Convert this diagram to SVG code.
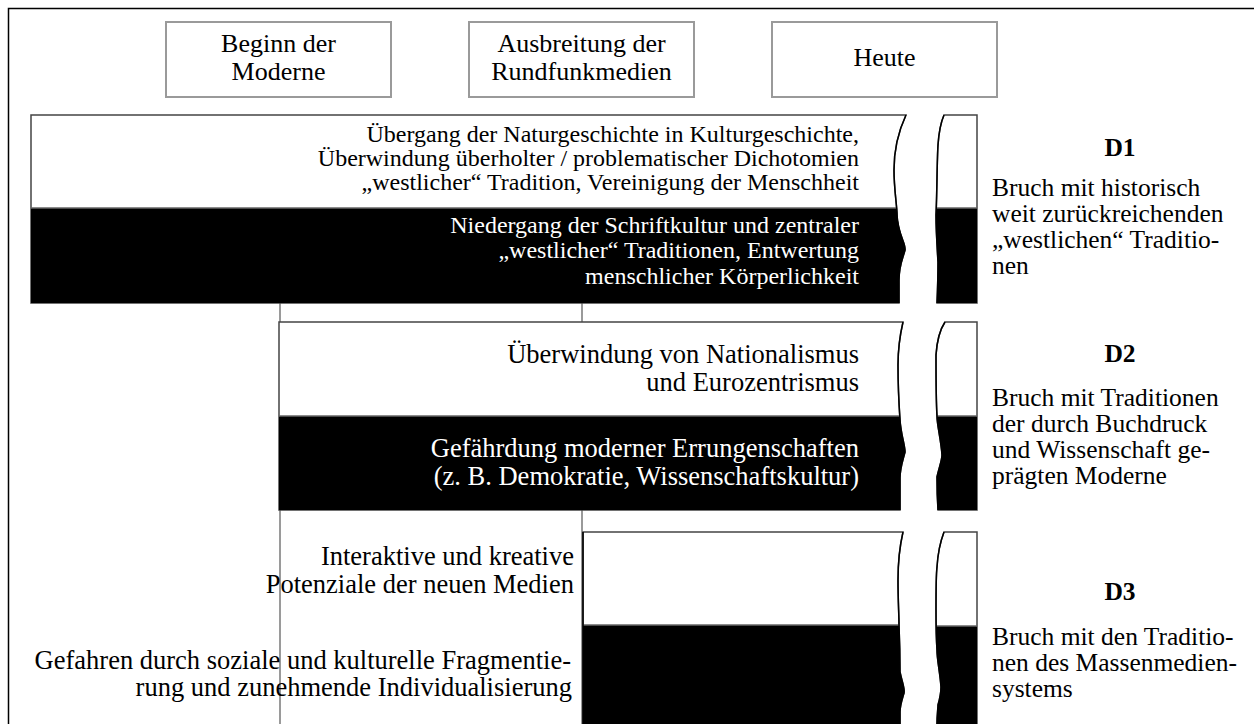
<svg xmlns="http://www.w3.org/2000/svg" width="1254" height="724" viewBox="0 0 1254 724">
<style>
text{font-family:"Liberation Serif","Times New Roman",serif;font-size:26px;fill:#000}
.s24{font-size:24px}
.s26{font-size:26.5px}
.rc{font-size:25.5px}
.r{text-anchor:end}
.c{text-anchor:middle}
.w{fill:#fff}
.b{font-weight:bold}
.hdr{fill:#fff;stroke:#9a9a9a;stroke-width:2}
.guide{stroke:#9a9a9a;stroke-width:2;fill:none}
.blk{fill:#000;stroke:none}
.edge{fill:none;stroke:#000;stroke-width:1.5}
.box{fill:#fff;stroke:#444;stroke-width:1.5}
.sep{stroke:#666;stroke-width:1.5}
</style>
<rect width="1254" height="724" fill="#fff"/>
<path d="M8.5,724 V8.5 H1254" fill="none" stroke="#000" stroke-width="1.5"/>

<g id="connectors">
<line class="guide" x1="280" y1="115" x2="280" y2="724"/>
<line class="guide" x1="582" y1="115" x2="582" y2="724"/>
</g>

<g id="beginn">
<rect class="hdr" x="166" y="22" width="225" height="75"/>
<text class="c" x="278.5" y="52">Beginn der</text>
<text class="c" x="278.5" y="80">Moderne</text>
</g>
<g id="ausbreitung">
<rect class="hdr" x="469" y="22" width="225" height="75"/>
<text class="c" x="581.5" y="52">Ausbreitung der</text>
<text class="c" x="581.5" y="80">Rundfunkmedien</text>
</g>
<g id="heute">
<rect class="hdr" x="772" y="22" width="225" height="75"/>
<text class="c" x="884.5" y="66">Heute</text>
</g>

<g id="d1">
<path class="box" d="M31,115 H906 C899,130 894,150 894,170 C894,190 897,205 897,215 C898,235 906,243 905,250 C903,258 899,265 899,280 L899,303 H31 Z"/>
<path class="blk" d="M31,208 H897 C898,235 906,243 905,250 C903,258 899,265 899,280 L899,303 H31 Z"/>
<line class="sep" x1="31" y1="208" x2="897" y2="208"/>
<path class="edge" d="M906,115 C899,130 894,150 894,170 C894,190 897,205 897,215 C898,235 906,243 905,250 C903,258 899,265 899,280 L899,303"/>
<path class="box" d="M944,115 H977 V303 H937 C938,280 938,268 938,262 C937,245 936,230 936,215 C937,195 937,160 938,145 C939,130 941,122 944,115 Z"/>
<path class="blk" d="M936,208 H977 V303 H937 C938,280 938,268 938,262 C937,245 936,230 936,215 Z"/>
<line class="sep" x1="936" y1="208" x2="977" y2="208"/>
<path class="edge" d="M944,115 C941,122 939,130 938,145 C937,160 937,195 936,215 C936,230 937,245 938,262 C938,268 938,280 937,303"/>
<text class="s24 r" x="859" y="142">Übergang der Naturgeschichte in Kulturgeschichte,</text>
<text class="s24 r" x="859" y="166">Überwindung überholter / problematischer Dichotomien</text>
<text class="s24 r" x="859" y="190">„westlicher“ Tradition, Vereinigung der Menschheit</text>
<text class="s24 r w" x="859" y="233">Niedergang der Schriftkultur und zentraler</text>
<text class="s24 r w" x="859" y="258">„westlicher“ Traditionen, Entwertung</text>
<text class="s24 r w" x="859" y="284">menschlicher Körperlichkeit</text>
<text class="c b rc" x="1120" y="156">D1</text>
<text class="rc" x="992" y="196">Bruch mit historisch<tspan x="992" dy="26">weit zurückreichenden</tspan><tspan x="992" dy="26">„westlichen“ Traditio-</tspan><tspan x="992" dy="26">nen</tspan></text>
</g>

<g id="d2">
<path class="box" d="M279,322 H903 C900,335 898,350 898,365 C898,385 899,405 900,420 C901,435 905,445 905,452 C903,460 900,468 900,478 L900,510 H279 Z"/>
<path class="blk" d="M279,416 H900 C901,435 905,445 905,452 C903,460 900,468 900,478 L900,510 H279 Z"/>
<line class="sep" x1="279" y1="416" x2="900" y2="416"/>
<path class="edge" d="M903,322 C900,335 898,350 898,365 C898,385 899,405 900,420 C901,435 905,445 905,452 C903,460 900,468 900,478 L900,510"/>
<path class="box" d="M945,322 H977 V510 H938 C937,495 937,482 937,477 C939,468 942,460 942,455 C941,440 937,425 937,416 C936,400 936,375 936,355 C937,340 941,328 945,322 Z"/>
<path class="blk" d="M937,416 H977 V510 H938 C937,495 937,482 937,477 C939,468 942,460 942,455 C941,440 937,425 937,416 Z"/>
<line class="sep" x1="937" y1="416" x2="977" y2="416"/>
<path class="edge" d="M945,322 C941,328 937,340 936,355 C936,375 936,400 937,416 C937,425 941,440 942,455 C942,460 939,468 937,477 C937,482 937,495 938,510"/>
<text class="s26 r" x="859" y="363">Überwindung von Nationalismus</text>
<text class="s26 r" x="859" y="391">und Eurozentrismus</text>
<text class="s26 r w" x="859" y="457">Gefährdung moderner Errungenschaften</text>
<text class="s26 r w" x="859" y="485">(z. B. Demokratie, Wissenschaftskultur)</text>
<text class="c b rc" x="1120" y="362">D2</text>
<text class="rc" x="992" y="406">Bruch mit Traditionen<tspan x="992" dy="26">der durch Buchdruck</tspan><tspan x="992" dy="26">und Wissenschaft ge-</tspan><tspan x="992" dy="26">prägten Moderne</tspan></text>
</g>

<g id="d3">
<path class="box" d="M583,724 V532 H903 C900,545 898,565 898,580 C898,600 899,615 899,625 C900,650 900,665 900,672 C902,682 905,688 904,693 C902,700 900,705 900,712 L900,724"/>
<path class="blk" d="M583,625 H899 C900,650 900,665 900,672 C902,682 905,688 904,693 C902,700 900,705 900,712 L900,724 H583 Z"/>
<line class="sep" x1="583" y1="625" x2="899" y2="625"/>
<line x1="583" y1="532" x2="583" y2="724" stroke="#000" stroke-width="1.5"/>
<path class="edge" d="M903,532 C900,545 898,565 898,580 C898,600 899,615 899,625 C900,650 900,665 900,672 C902,682 905,688 904,693 C902,700 900,705 900,712 L900,724"/>
<path class="box" d="M937,724 C937,715 938,708 938,705 C940,698 941,692 941,687 C940,672 937,660 937,650 C936,635 936,625 936,610 C936,590 936,575 937,567 C938,550 941,540 944,532 H977 V724"/>
<path class="blk" d="M936,626 H977 V724 H937 C937,715 938,708 938,705 C940,698 941,692 941,687 C940,672 937,660 937,650 C936,635 936,630 936,626 Z"/>
<line class="sep" x1="936" y1="626" x2="977" y2="626"/>
<path class="edge" d="M944,532 C941,540 938,550 937,567 C936,575 936,590 936,610 C936,625 936,635 937,650 C937,660 940,672 941,687 C941,692 940,698 938,705 C938,708 937,715 937,724"/>
<text class="s26 r" x="574" y="565">Interaktive und kreative</text>
<text class="s26 r" x="574" y="593">Potenziale der neuen Medien</text>
<text class="s26 r" x="571" y="669">Gefahren durch soziale und kulturelle Fragmentie-</text>
<text class="s26 r" x="572" y="696">rung und zunehmende Individualisierung</text>
<text class="c b rc" x="1120" y="600">D3</text>
<text class="rc" x="992" y="645">Bruch mit den Traditio-<tspan x="992" dy="26">nen des Massenmedien-</tspan><tspan x="992" dy="26">systems</tspan></text>
</g>
</svg>
